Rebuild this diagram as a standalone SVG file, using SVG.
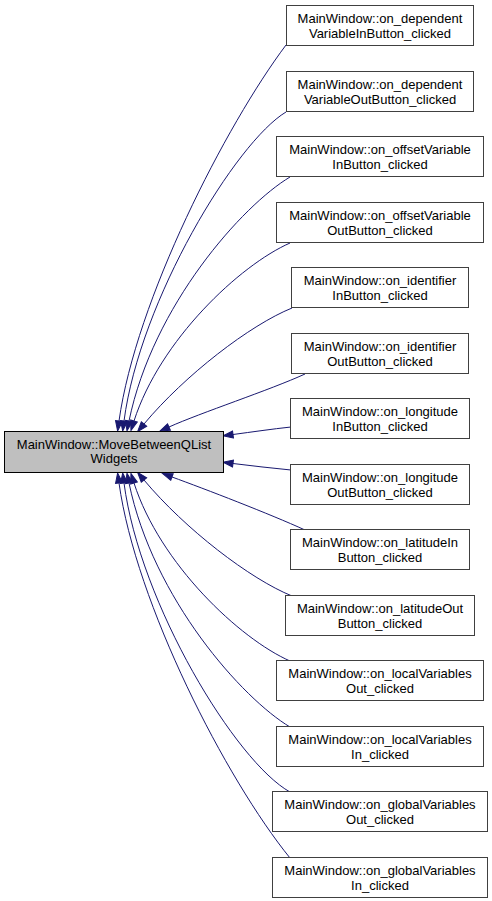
<svg xmlns="http://www.w3.org/2000/svg" width="492" height="901" viewBox="0 0 492 901">
<style>
.n rect{fill:#ffffff;stroke:#404040;stroke-width:1}
.root rect{fill:#bfbfbf;stroke:#000000;stroke-width:1}
text{font-family:"Liberation Sans",Arial,Helvetica,sans-serif;font-size:13px;fill:#000000;text-anchor:middle}
.e path{fill:none;stroke:#191970;stroke-width:1;marker-end:url(#ah)}
</style>
<defs>
<marker id="ah" markerUnits="userSpaceOnUse" markerWidth="12" markerHeight="10" refX="0" refY="5" orient="auto" viewBox="0 0 12 10" overflow="visible">
<path d="M0,1.5 L10,5 L0,8.5 z" fill="#191970" stroke="#191970" stroke-width="1"/>
</marker>
</defs>
<rect width="492" height="901" fill="#ffffff"/>
<g id="edges" class="e">
<path d="M286,45 C226,125 136,300 119,421"/>
<path d="M286,112 C236,142 140,300 124,421"/>
<path d="M290,177 C243,205 153,305 129,421"/>
<path d="M290,243 C240,265 160,340 134,421"/>
<path d="M292,308 C250,325 185,375 144,424"/>
<path d="M305,374 C270,390 200,413 169,427"/>
<path d="M291,427 C272,429 252,432 233,434.5"/>
<path d="M291,470 C272,468 252,466 233,463.5"/>
<path d="M305,530 C270,514 205,489 172,477"/>
<path d="M292,596 C250,579 185,529 144,480"/>
<path d="M290,661 C240,639 160,564 134,483"/>
<path d="M290,727 C243,699 153,599 129,483"/>
<path d="M290,792 C236,762 140,604 124,483"/>
<path d="M290,858 C226,779 136,604 119,483"/>
</g>
<g id="root" class="root">
<rect x="4.5" y="431.5" width="219" height="41"/>
<text x="114" y="448.5">MainWindow::MoveBetweenQList</text>
<text x="114" y="463">Widgets</text>
</g>
<g id="n0" class="n"><rect x="286.5" y="5.5" width="187" height="40"/><text x="380" y="22.5">MainWindow::on_dependent</text><text x="380" y="37.5">VariableInButton_clicked</text></g>
<g id="n1" class="n"><rect x="286.5" y="71.5" width="187" height="40"/><text x="380" y="88.5">MainWindow::on_dependent</text><text x="380" y="103.5">VariableOutButton_clicked</text></g>
<g id="n2" class="n"><rect x="276.5" y="136.5" width="207" height="40"/><text x="380" y="153.5">MainWindow::on_offsetVariable</text><text x="380" y="168.5">InButton_clicked</text></g>
<g id="n3" class="n"><rect x="276.5" y="202.5" width="207" height="40"/><text x="380" y="219.5">MainWindow::on_offsetVariable</text><text x="380" y="234.5">OutButton_clicked</text></g>
<g id="n4" class="n"><rect x="291.5" y="267.5" width="177" height="40"/><text x="380" y="284.5">MainWindow::on_identifier</text><text x="380" y="299.5">InButton_clicked</text></g>
<g id="n5" class="n"><rect x="291.5" y="333.5" width="177" height="40"/><text x="380" y="350.5">MainWindow::on_identifier</text><text x="380" y="365.5">OutButton_clicked</text></g>
<g id="n6" class="n"><rect x="290.5" y="398.5" width="179" height="40"/><text x="380" y="415.5">MainWindow::on_longitude</text><text x="380" y="430.5">InButton_clicked</text></g>
<g id="n7" class="n"><rect x="290.5" y="464.5" width="179" height="40"/><text x="380" y="481.5">MainWindow::on_longitude</text><text x="380" y="496.5">OutButton_clicked</text></g>
<g id="n8" class="n"><rect x="290.5" y="529.5" width="179" height="40"/><text x="380" y="546.5">MainWindow::on_latitudeIn</text><text x="380" y="561.5">Button_clicked</text></g>
<g id="n9" class="n"><rect x="285.5" y="595.5" width="189" height="40"/><text x="380" y="612.5">MainWindow::on_latitudeOut</text><text x="380" y="627.5">Button_clicked</text></g>
<g id="n10" class="n"><rect x="276.5" y="660.5" width="207" height="40"/><text x="380" y="677.5">MainWindow::on_localVariables</text><text x="380" y="692.5">Out_clicked</text></g>
<g id="n11" class="n"><rect x="276.5" y="726.5" width="207" height="40"/><text x="380" y="743.5">MainWindow::on_localVariables</text><text x="380" y="758.5">In_clicked</text></g>
<g id="n12" class="n"><rect x="272.5" y="791.5" width="215" height="40"/><text x="380" y="808.5">MainWindow::on_globalVariables</text><text x="380" y="823.5">Out_clicked</text></g>
<g id="n13" class="n"><rect x="272.5" y="857.5" width="215" height="40"/><text x="380" y="874.5">MainWindow::on_globalVariables</text><text x="380" y="889.5">In_clicked</text></g>
</svg>
